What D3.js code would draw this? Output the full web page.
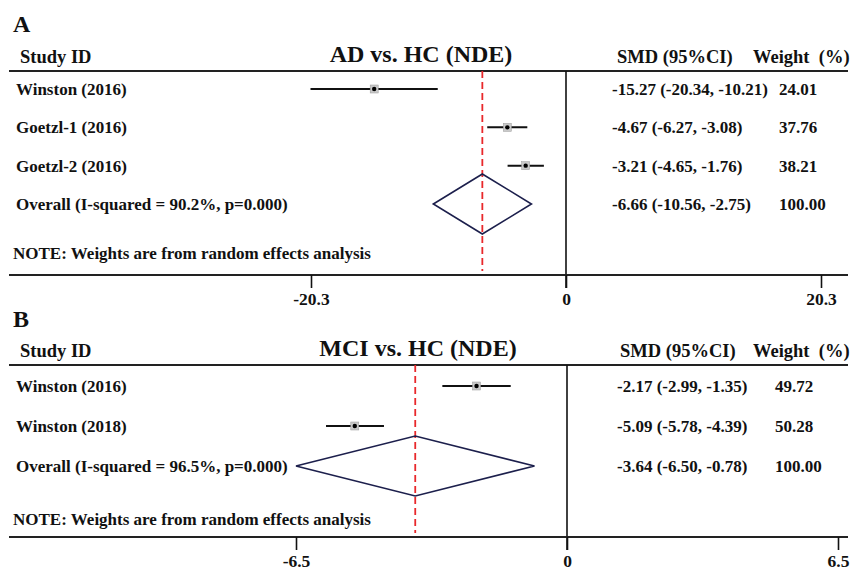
<!DOCTYPE html>
<html>
<head>
<meta charset="utf-8">
<script src="https://cdn.jsdelivr.net/npm/d3@7"></script>
<style>
  body { margin: 0; background: #fff; }
  text { font-family: "Liberation Serif", "Times New Roman", serif; font-weight: bold; fill: #111; }
</style>
</head>
<body>
<script>
// Datos del panel A (AD vs. HC)
const estudiosA = ["Winston (2016)", "Goetzl-1 (2016)", "Goetzl-2 (2016)"];
const smdA = [-15.27, -4.67, -3.21];
const inferiorA = [-20.34, -6.27, -4.65];
const superiorA = [-10.21, -3.08, -1.76];
const pesosA = ["24.01", "37.76", "38.21"];
const globalA = [-6.66, -10.56, -2.75]; // smd, inferior, superior
const etiquetaGlobalA = "Overall (I-squared = 90.2%, p=0.000)";
const ticksA = [-20.3, 0, 20.3];

// Datos del panel B (MCI vs. HC)
const estudiosB = ["Winston (2016)", "Winston (2018)"];
const smdB = [-2.17, -5.09];
const inferiorB = [-2.99, -5.78];
const superiorB = [-1.35, -4.39];
const pesosB = ["49.72", "50.28"];
const globalB = [-3.64, -6.50, -0.78];
const etiquetaGlobalB = "Overall (I-squared = 96.5%, p=0.000)";
const ticksB = [-6.5, 0, 6.5];

const WIDTH = 855;
const HEIGHT = 570;
const NOTA = "NOTE: Weights are from random effects analysis";

const svg = d3.select("body")
  .append("svg")
  .attr("width", WIDTH)
  .attr("height", HEIGHT);

// Formato "-15.27 (-20.34, -10.21)"
const f2 = d3.format(".2f");
const fmtIC = (m, lo, hi) => `${f2(m)} (${f2(lo)}, ${f2(hi)})`.replace(/\u2212/g, "-");

function dibujarPanel(p) {
  const g = svg.append("g");

  // Escala x de cada panel
  const x = d3.scaleLinear().domain(p.dominio).range(p.rangoX);

  // Filas: estudios + overall
  const filas = p.estudios.map((e, i) => ({
    estudio: e, smd: p.smd[i], lo: p.inf[i], hi: p.sup[i], peso: p.pesos[i]
  }));
  const etiquetasFilas = filas.map(d => d.estudio).concat([p.etiquetaGlobal]);
  const y = d3.scalePoint().domain(etiquetasFilas).range(p.rangoY);
  const yGlobal = y(p.etiquetaGlobal);

  // Letra del panel
  g.append("text").attr("x", 13).attr("y", p.yLetra)
    .attr("font-size", 24).text(p.letra);

  // Encabezados
  g.append("text").attr("x", 20).attr("y", p.yEncabezado)
    .attr("font-size", 18.5).text("Study ID");
  g.append("text").attr("x", p.xTitulo).attr("y", p.yEncabezado - 1)
    .attr("text-anchor", "middle").attr("font-size", 24).text(p.titulo);
  g.append("text").attr("x", p.xSMDhead).attr("y", p.yEncabezado)
    .attr("font-size", 18.5).text("SMD (95%CI)");
  g.append("text").attr("x", 753).attr("y", p.yEncabezado)
    .attr("font-size", 18.5).attr("xml:space", "preserve").text("Weight  (%)");

  // Línea superior
  g.append("line").attr("x1", 9).attr("x2", 848)
    .attr("y1", p.yLinea).attr("y2", p.yLinea)
    .attr("stroke", "#222").attr("stroke-width", 2.2);

  // Línea vertical en 0 (continúa como tick del eje)
  g.append("line").attr("x1", x(0)).attr("x2", x(0))
    .attr("y1", p.yLinea).attr("y2", p.yEje + 13)
    .attr("stroke", "#111").attr("stroke-width", 1.6);

  // Línea roja discontinua en el efecto global
  g.append("line").attr("x1", x(p.global[0])).attr("x2", x(p.global[0]))
    .attr("y1", p.yLinea).attr("y2", p.yEje - 4)
    .attr("stroke", "#e8282b").attr("stroke-width", 1.8)
    .attr("stroke-dasharray", "7,4");

  // Eje inferior
  g.append("line").attr("x1", 9).attr("x2", 848)
    .attr("y1", p.yEje).attr("y2", p.yEje)
    .attr("stroke", "#222").attr("stroke-width", 2);

  const eje = d3.axisBottom(x)
    .tickValues(p.ticks)
    .tickSize(13)
    .tickPadding(5)
    .tickFormat(d => d === 0 ? "0" : String(d));

  const gEje = g.append("g")
    .attr("transform", `translate(0, ${p.yEje})`)
    .call(eje);
  gEje.select(".domain").remove();
  gEje.selectAll("line").attr("stroke", "#111").attr("stroke-width", 1.6);
  gEje.selectAll("text")
    .attr("font-size", 17.5)
    .attr("fill", "#111");

  // Intervalos de confianza
  g.selectAll(".ic").data(filas).join("line")
    .attr("class", "ic")
    .attr("x1", d => x(d.lo)).attr("x2", d => x(d.hi))
    .attr("y1", d => y(d.estudio)).attr("y2", d => y(d.estudio))
    .attr("stroke", "#111").attr("stroke-width", 2);

  // Cuadrados grises
  g.selectAll(".caja").data(filas).join("rect")
    .attr("class", "caja")
    .attr("x", d => x(d.smd) - 4).attr("y", d => y(d.estudio) - 4)
    .attr("width", 8).attr("height", 8)
    .attr("fill", "#c9c9c9").attr("stroke", "#999").attr("stroke-width", 0.5);

  // Punto central
  g.selectAll(".punto").data(filas).join("circle")
    .attr("class", "punto")
    .attr("cx", d => x(d.smd)).attr("cy", d => y(d.estudio))
    .attr("r", 2.2).attr("fill", "#000");

  // Diamante global
  const [m, lo, hi] = p.global;
  g.append("polygon")
    .attr("points", [
      [x(lo), yGlobal], [x(m), yGlobal - 30], [x(hi), yGlobal], [x(m), yGlobal + 30]
    ].map(q => q.join(",")).join(" "))
    .attr("fill", "none").attr("stroke", "#1c1f4c").attr("stroke-width", 1.6);

  // Textos de las filas
  g.selectAll(".nombre").data(etiquetasFilas).join("text")
    .attr("class", "nombre")
    .attr("x", 16).attr("y", d => y(d) + 6 + p.dyTexto)
    .attr("font-size", 17).text(d => d);

  const textosIC = filas.map(d => fmtIC(d.smd, d.lo, d.hi)).concat([fmtIC(m, lo, hi)]);
  const textosPeso = filas.map(d => d.peso).concat(["100.00"]);

  g.selectAll(".valor").data(etiquetasFilas).join("text")
    .attr("class", "valor")
    .attr("x", p.xSMD).attr("y", d => y(d) + 6 + p.dyTexto)
    .attr("font-size", 17).text((d, i) => textosIC[i]);

  g.selectAll(".peso").data(etiquetasFilas).join("text")
    .attr("class", "peso")
    .attr("x", p.xPeso).attr("y", d => y(d) + 6 + p.dyTexto)
    .attr("font-size", 17).text((d, i) => textosPeso[i]);

  // Nota
  g.append("text").attr("x", 13).attr("y", p.yNota)
    .attr("font-size", 17).text(NOTA);
}

dibujarPanel({
  letra: "A", titulo: "AD vs. HC (NDE)",
  estudios: estudiosA, smd: smdA, inf: inferiorA, sup: superiorA, pesos: pesosA,
  global: globalA, etiquetaGlobal: etiquetaGlobalA, ticks: ticksA,
  dominio: [-20.3, 20.3], rangoX: [311, 821],
  rangoY: [89, 204], dyTexto: 0,
  yLetra: 32, yEncabezado: 63, yLinea: 71, yNota: 259, yEje: 275,
  xTitulo: 421, xSMDhead: 617, xSMD: 612, xPeso: 779
});

dibujarPanel({
  letra: "B", titulo: "MCI vs. HC (NDE)",
  estudios: estudiosB, smd: smdB, inf: inferiorB, sup: superiorB, pesos: pesosB,
  global: globalB, etiquetaGlobal: etiquetaGlobalB, ticks: ticksB,
  dominio: [-6.5, 6.5], rangoX: [296, 838],
  rangoY: [386, 466], dyTexto: 0,
  yLetra: 327, yEncabezado: 357, yLinea: 365, yNota: 525, yEje: 537,
  xTitulo: 418, xSMDhead: 620, xSMD: 617, xPeso: 775
});
</script>
</body>
</html>
